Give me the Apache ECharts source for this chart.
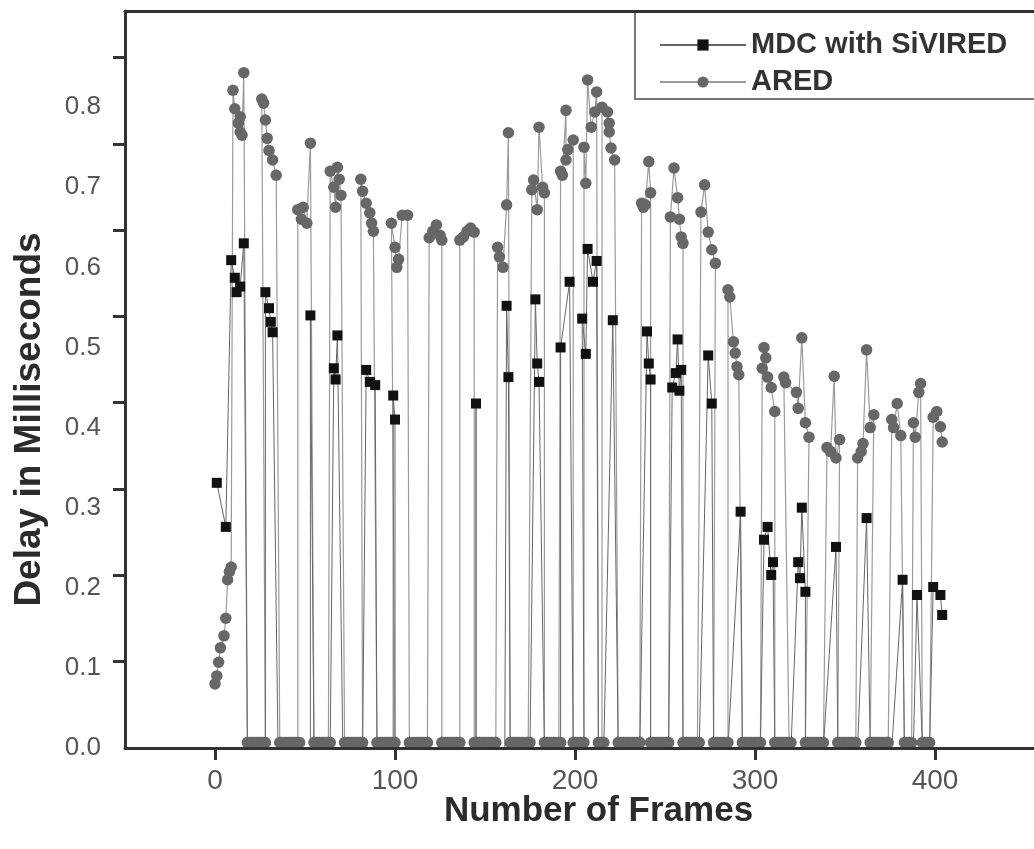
<!DOCTYPE html>
<html>
<head>
<meta charset="utf-8">
<script src="https://cdn.jsdelivr.net/npm/echarts@6/dist/echarts.min.js"></script>
<style>
  html, body { margin: 0; padding: 0; background: #ffffff; }
  #chart { width: 1034px; height: 849px; }
</style>
</head>
<body>
<div id="chart"></div>
<script>
// Delay per frame for the two queue schemes, in plotting order: [frame, delay in ms]

// ARED: start-up ramp, then short bursts separated by idle (zero-delay) frames
const aredDelay = [
  [0,0.080],[1,0.090],[2,0.107],[3,0.125],[5,0.140],[6,0.162],[7,0.210],[8,0.220],[9,0.226],
  [10,0.821],[11,0.798],[13,0.780],[14,0.788],[14,0.769],[15,0.765],[16,0.843],
  [18,0],[19,0],[20,0],[21,0],[22,0],[23,0],[24,0],[25,0],[26,0],[27,0],[28,0],
  [26,0.810],[27,0.805],[28,0.784],[29,0.761],[30,0.746],[32,0.734],[34,0.715],
  [36,0],[37,0],[38,0],[39,0],[40,0],[41,0],[42,0],[43,0],[44,0],[45,0],[46,0],[47,0],
  [46,0.672],[48,0.660],[49,0.675],[51,0.655],[53,0.755],
  [55,0],[56,0],[57,0],[58,0],[59,0],[60,0],[61,0],[62,0],[63,0],[64,0],
  [64,0.720],[66,0.700],[67,0.675],[68,0.725],[69,0.710],[70,0.690],
  [72,0],[73,0],[74,0],[75,0],[76,0],[77,0],[78,0],[79,0],[80,0],[81,0],[82,0],
  [81,0.710],[82,0.695],[84,0.680],[86,0.668],[87,0.655],[88,0.645],
  [90,0],[91,0],[92,0],[93,0],[94,0],[95,0],[96,0],[97,0],[98,0],[99,0],[100,0],
  [98,0.655],[100,0.625],[101,0.600],[102,0.610],[104,0.665],[107,0.665],
  [108,0],[109,0],[110,0],[111,0],[112,0],[113,0],[114,0],[115,0],[116,0],[117,0],[118,0],
  [119,0.637],[121,0.645],[123,0.653],[125,0.640],[126,0.634],
  [126,0],[127,0],[128,0],[129,0],[130,0],[131,0],[132,0],[133,0],[134,0],[135,0],[136,0],
  [136,0.634],[138,0.638],[140,0.645],[142,0.649],[144,0.644],
  [144,0],[145,0],[146,0],[147,0],[148,0],[149,0],[150,0],[151,0],[152,0],[153,0],[154,0],[155,0],[156,0],
  [157,0.625],[158,0.613],[160,0.600],[162,0.678],[163,0.768],
  [164,0],[165,0],[166,0],[167,0],[168,0],[169,0],[170,0],[171,0],[172,0],[173,0],[174,0],[175,0],
  [176,0.697],[177,0.709],[179,0.672],[180,0.775],[182,0.700],[183,0.693],
  [183,0],[184,0],[185,0],[186,0],[187,0],[188,0],[189,0],[190,0],[191,0],[192,0],
  [192,0.720],[193,0.715],[195,0.796],[195,0.734],[196,0.747],[199,0.759],
  [199,0],[200,0],[201,0],[202,0],[203,0],[204,0],[205,0],
  [205,0.750],[206,0.705],[207,0.834],[209,0.775],[211,0.794],[212,0.819],
  [213,0],[214,0],[215,0],[216,0],
  [215,0.800],[218,0.794],[219,0.780],[219,0.769],[220,0.749],[222,0.734],
  [224,0],[225,0],[226,0],[227,0],[228,0],[229,0],[230,0],[231,0],[232,0],[233,0],[234,0],[235,0],[236,0],
  [237,0.680],[238,0.675],[239,0.678],[241,0.732],[242,0.693],
  [242,0],[243,0],[244,0],[245,0],[246,0],[247,0],[248,0],[249,0],[250,0],[251,0],[252,0],
  [253,0.663],[255,0.724],[257,0.687],[258,0.660],[259,0.638],[260,0.630],
  [260,0],[261,0],[262,0],[263,0],[264,0],[265,0],[266,0],[267,0],[268,0],[269,0],
  [270,0.669],[272,0.703],[274,0.644],[276,0.622],[278,0.605],
  [277,0],[278,0],[279,0],[280,0],[281,0],[282,0],[283,0],[284,0],[285,0],
  [285,0.572],[286,0.563],[288,0.507],[289,0.493],[290,0.476],[291,0.466],
  [293,0],[294,0],[295,0],[296,0],[297,0],[298,0],[299,0],[300,0],[301,0],[302,0],[303,0],
  [304,0.474],[305,0.500],[306,0.487],[307,0.463],[309,0.450],[311,0.420],
  [311,0],[312,0],[313,0],[314,0],[315,0],[316,0],[317,0],[318,0],[319,0],[320,0],
  [316,0.463],[317,0.456],[323,0.444],[324,0.424],[326,0.512],[328,0.406],[330,0.388],
  [328,0],[329,0],[330,0],[331,0],[332,0],[333,0],[334,0],[335,0],[336,0],[337,0],[338,0],
  [340,0.375],[342,0.370],[344,0.464],[345,0.362],[347,0.385],
  [346,0],[347,0],[348,0],[349,0],[350,0],[351,0],[352,0],[353,0],[354,0],[355,0],[356,0],
  [357,0.362],[359,0.370],[360,0.380],[362,0.497],[364,0.400],[366,0.416],
  [364,0],[365,0],[366,0],[367,0],[368,0],[369,0],[370,0],[371,0],[372,0],[373,0],[374,0],
  [376,0.410],[377,0.400],[379,0.430],[381,0.390],
  [383,0],[384,0],[385,0],[386,0],[387,0],
  [388,0.406],[389,0.388],[391,0.444],[392,0.455],
  [393,0],[394,0],[395,0],[396,0],[397,0],
  [399,0.413],[401,0.420],[403,0.401],[404,0.382]
];

// MDC with SiVIRED: same bursts, lower delays
const mdcDelay = [
  [1,0.331],[6,0.276],
  [9,0.609],[11,0.587],[12,0.569],[14,0.576],[16,0.630],[18,0],
  [28,0],[28,0.569],[30,0.549],[31,0.532],[32,0.519],[35,0],
  [53,0],[53,0.540],[55,0],
  [64,0],[66,0.474],[67,0.460],[68,0.515],[71,0],
  [82,0],[84,0.472],[86,0.457],[89,0.453],[90,0],
  [99,0],[99,0.440],[100,0.410],[100,0],
  [145,0],[145,0.430],[145,0],
  [161,0],[162,0.552],[163,0.463],[164,0],
  [175,0],[178,0.560],[179,0.480],[180,0.457],[183,0],
  [192,0],[192,0.500],[197,0.582],[199,0],
  [205,0],[204,0.536],[206,0.492],[207,0.623],[210,0.582],[212,0.608],[213,0],
  [216,0],[221,0.534],[224,0],
  [236,0],[240,0.520],[241,0.480],[242,0.460],[242,0],
  [252,0],[254,0.450],[256,0.468],[257,0.510],[258,0.446],[259,0.472],[260,0],
  [269,0],[274,0.490],[276,0.430],[277,0],
  [285,0],[292,0.295],[293,0],
  [303,0],[305,0.260],[307,0.276],[309,0.216],[310,0.232],[311,0],
  [320,0],[324,0.232],[325,0.212],[326,0.300],[328,0.195],[328,0],
  [338,0],[345,0.251],[346,0],
  [357,0],[362,0.287],[364,0],
  [376,0],[382,0.210],[383,0],
  [388,0],[390,0.191],[393,0],
  [397,0],[399,0.201],[403,0.191],[404,0.166]
];

const xTickValues = [0, 100, 200, 300, 400];
const yLabelValues = [0, 0.1, 0.2, 0.3, 0.4, 0.5, 0.6, 0.7, 0.8];
const yTickMarks = [0.1077, 0.2155, 0.3232, 0.4310, 0.5387, 0.6465, 0.7542, 0.8620];

const FONT = "'Liberation Sans', Arial, Helvetica, sans-serif";

// idle frames: ARED markers sit just above the axis line, MDC markers are not drawn there
const aredData = aredDelay.map(([f, d]) =>
  d === 0 ? { value: [f, d], symbolOffset: [0, -5.5] } : [f, d]);
const mdcData = mdcDelay.map(([f, d]) =>
  d === 0 ? { value: [f, d], symbol: 'none' } : [f, d]);

const chart = echarts.init(document.getElementById('chart'), null, { renderer: 'canvas' });

chart.setOption({
  animation: false,
  backgroundColor: '#ffffff',
  textStyle: { fontFamily: FONT },
  grid: { left: 125, top: 11, width: 914, height: 737, containLabel: false },
  legend: {
    orient: 'vertical',
    left: 635,
    top: 11,
    padding: [18, 40, 1, 24],
    itemGap: 5,
    itemWidth: 86,
    itemHeight: 14,
    borderColor: '#777777',
    borderWidth: 2,
    backgroundColor: '#ffffff',
    selectedMode: false,
    textStyle: { fontFamily: FONT, fontSize: 29, fontWeight: 'bold', color: '#333333', lineHeight: 32 },
    data: ['MDC with SiVIRED', 'ARED']
  },
  xAxis: [
    {
      type: 'value',
      min: -50,
      max: 455,
      position: 'bottom',
      z: 10,
      axisLine: { show: true, onZero: false, lineStyle: { color: '#333333', width: 3 } },
      axisTick: { show: true, length: 12, customValues: xTickValues, lineStyle: { color: '#333333', width: 3 } },
      axisLabel: { customValues: xTickValues, fontFamily: FONT, fontSize: 28, color: '#555555', margin: 19 },
      splitLine: { show: false },
      name: 'Number of Frames',
      nameLocation: 'middle',
      nameGap: 46,
      nameMoveOverlap: false,
      nameTextStyle: {
        fontFamily: FONT, fontSize: 35, fontWeight: 'bold', color: '#2b2b2b',
        padding: [0, 0, 0, 38]
      }
    },
    {
      type: 'value',
      min: -50,
      max: 455,
      position: 'top',
      z: 10,
      axisLine: { show: true, onZero: false, lineStyle: { color: '#333333', width: 3 } },
      axisTick: { show: false },
      axisLabel: { show: false },
      splitLine: { show: false }
    }
  ],
  yAxis: {
    type: 'value',
    min: 0,
    max: 0.92,
    interval: 0.1,
    z: 10,
    axisLine: { show: true, onZero: false, lineStyle: { color: '#333333', width: 3 } },
    axisTick: { show: true, length: 12, customValues: yTickMarks, lineStyle: { color: '#333333', width: 3 } },
    axisLabel: {
      customValues: yLabelValues,
      formatter: (v) => v.toFixed(1),
      fontFamily: FONT, fontSize: 26, color: '#555555', margin: 24
    },
    splitLine: { show: false },
    name: 'Delay in Milliseconds',
    nameLocation: 'middle',
    nameGap: 77,
    nameMoveOverlap: false,
    nameRotate: 90,
    nameTextStyle: {
      fontFamily: FONT, fontSize: 37, fontWeight: 'bold', color: '#2b2b2b',
      padding: [0, 80, 0, 0]
    }
  },
  series: [
    {
      name: 'MDC with SiVIRED',
      type: 'line',
      z: 4,
      data: mdcData,
      symbol: 'rect',
      symbolSize: 10,
      showAllSymbol: true,
      itemStyle: { color: '#111111' },
      lineStyle: { color: '#666666', width: 1 },
      emphasis: { disabled: true }
    },
    {
      name: 'ARED',
      type: 'line',
      z: 3,
      data: aredData,
      symbol: 'circle',
      symbolSize: 11.5,
      showAllSymbol: true,
      itemStyle: { color: '#676767' },
      lineStyle: { color: '#9b9b9b', width: 1.2 },
      emphasis: { disabled: true }
    }
  ]
});
</script>
</body>
</html>
